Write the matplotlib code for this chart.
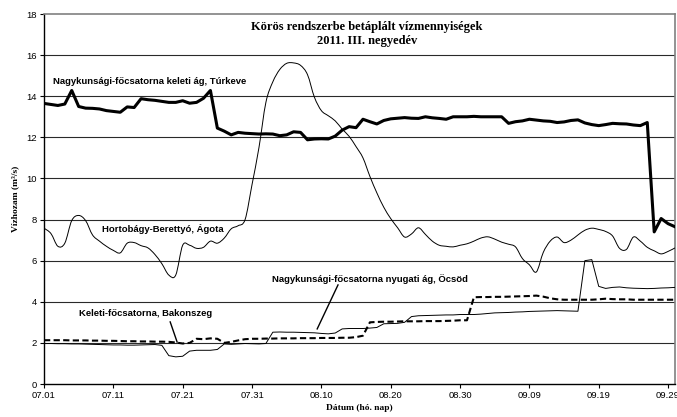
import matplotlib
matplotlib.use("Agg")
import matplotlib.pyplot as plt
from matplotlib.path import Path
from matplotlib.patches import PathPatch
import numpy as np

# Day index 0 = 07.01, 91 = 09.30 (2011)
days = np.arange(92)
tick_days = [0, 10, 20, 30, 40, 50, 60, 70, 80, 90]
tick_labels = ["07.01", "07.11", "07.21", "07.31", "08.10", "08.20",
               "08.30", "09.09", "09.19", "09.29"]

# Nagykunsági-főcsatorna keleti ág, Túrkeve (m3/s)
turkeve = [13.65, 13.6, 13.55, 13.62, 14.28, 13.5, 13.42, 13.41, 13.38, 13.3,
           13.26, 13.22, 13.48, 13.45, 13.88, 13.83, 13.8, 13.75, 13.7, 13.7,
           13.78, 13.66, 13.7, 13.9, 14.28, 12.45, 12.3, 12.12, 12.24, 12.2,
           12.18, 12.16, 12.17, 12.16, 12.08, 12.12, 12.27, 12.24, 11.88, 11.92,
           11.93, 11.92, 12.06, 12.35, 12.52, 12.47, 12.88, 12.76, 12.65, 12.82,
           12.9, 12.93, 12.96, 12.93, 12.92, 13.0, 12.95, 12.92, 12.88, 13.0,
           13.0, 13.0, 13.02, 13.0, 13.0, 13.0, 13.0, 12.68, 12.76, 12.8,
           12.88, 12.84, 12.8, 12.78, 12.72, 12.75, 12.82, 12.85, 12.7, 12.62,
           12.57, 12.62, 12.68, 12.66, 12.65, 12.6, 12.57, 12.72, 7.4, 8.05,
           7.8, 7.65]

# Hortobágy-Berettyó, Ágota
agota = [7.58, 7.32, 6.7, 6.85, 7.95, 8.2, 7.95, 7.25, 6.95, 6.7,
         6.5, 6.38, 6.85, 6.88, 6.73, 6.62, 6.3, 5.85, 5.3, 5.3,
         6.75, 6.75, 6.6, 6.65, 6.95, 6.85, 7.1, 7.55, 7.7, 8.0,
         9.7, 11.5, 13.7, 14.7, 15.3, 15.6, 15.62, 15.5, 15.05, 13.95,
         13.3, 13.05, 12.8, 12.4, 12.05, 11.55, 11.0, 10.1, 9.3, 8.6,
         8.05, 7.6, 7.15, 7.3, 7.6, 7.28, 6.95, 6.75, 6.7, 6.67,
         6.75, 6.82, 6.95, 7.1, 7.16, 7.05, 6.9, 6.8, 6.67, 6.1,
         5.8, 5.45, 6.4, 6.95, 7.15, 6.88, 7.0, 7.25, 7.48, 7.58,
         7.52, 7.42, 7.2, 6.6, 6.55, 7.15, 6.95, 6.65, 6.48, 6.33,
         6.45, 6.62]

# Nagykunsági-főcsatorna nyugati ág, Öcsöd
ocsod = [1.97, 1.97, 1.96, 1.96, 1.95, 1.95, 1.94, 1.93, 1.92, 1.91,
         1.9, 1.9, 1.89, 1.89, 1.9, 1.91, 1.92, 1.88, 1.38, 1.32,
         1.35, 1.6, 1.64, 1.64, 1.64, 1.68, 1.95, 1.93, 1.95, 1.97,
         1.96, 1.95, 1.97, 2.52, 2.53, 2.52, 2.52, 2.51, 2.5, 2.49,
         2.46, 2.44, 2.48, 2.68, 2.7, 2.7, 2.7, 2.72, 2.75, 2.93,
         2.94, 2.95, 3.0, 3.28, 3.32, 3.33, 3.34, 3.35, 3.36, 3.36,
         3.38, 3.38, 3.38, 3.4, 3.43, 3.46, 3.47, 3.48, 3.5, 3.51,
         3.53, 3.54, 3.55, 3.56, 3.57, 3.56, 3.55, 3.54, 6.0, 6.05,
         4.75, 4.65, 4.7, 4.72, 4.68, 4.66, 4.65, 4.64, 4.65, 4.67,
         4.68, 4.7]

# Keleti-főcsatorna, Bakonszeg
bakonszeg = [2.13, 2.13, 2.13, 2.13, 2.12, 2.12, 2.12, 2.11, 2.11, 2.1,
             2.1, 2.09, 2.08, 2.08, 2.07, 2.07, 2.06, 2.06, 2.05, 2.02,
             1.97, 2.0, 2.2, 2.18, 2.22, 2.2, 2.0, 2.05, 2.12, 2.18,
             2.2, 2.2, 2.21, 2.21, 2.22, 2.22, 2.22, 2.23, 2.23, 2.23,
             2.24, 2.24, 2.24, 2.25, 2.25, 2.28, 2.35, 3.0, 3.02, 3.03,
             3.03, 3.04, 3.05, 3.05, 3.05, 3.06, 3.06, 3.06, 3.07, 3.08,
             3.1, 3.1, 4.22, 4.23, 4.23, 4.24, 4.24, 4.25, 4.26, 4.27,
             4.28, 4.3, 4.25, 4.17, 4.12, 4.1, 4.1, 4.1, 4.1, 4.1,
             4.12, 4.15, 4.13, 4.12, 4.12, 4.1, 4.1, 4.1, 4.1, 4.1,
             4.1, 4.1]

sans = ["Liberation Sans", "DejaVu Sans"]
serif = ["Liberation Serif", "DejaVu Serif"]


def smooth_path(x, y):
    """Catmull-Rom curve through the points, as cubic Bezier segments."""
    p = np.column_stack([x, y]).astype(float)
    ext = np.vstack([p[0], p, p[-1]])
    verts = [p[0]]
    codes = [Path.MOVETO]
    for i in range(len(p) - 1):
        p0, p1, p2, p3 = ext[i], ext[i + 1], ext[i + 2], ext[i + 3]
        c1 = p1 + (p2 - p0) / 6.0
        c2 = p2 - (p3 - p1) / 6.0
        verts += [c1, c2, p2]
        codes += [Path.CURVE4] * 3
    return Path(np.array(verts), codes)


fig = plt.figure(figsize=(6.77, 4.17), dpi=100)
ax = fig.add_axes([44 / 677, 1 - 384 / 417, 631 / 677, 370 / 417])

ax.set_xlim(0, 91)
ax.set_ylim(0, 18)
ax.set_yticks(np.arange(0, 19, 2))
ax.set_xticks(tick_days)
ax.set_xticklabels(tick_labels)

for y in np.arange(2, 18, 2):
    ax.axhline(y, color="#2a2a2a", lw=0.8, zorder=1)

ax.add_patch(PathPatch(smooth_path(days, agota), fill=False, edgecolor="black",
                       lw=0.7, zorder=3))
ax.plot(days, ocsod, color="black", lw=0.7, zorder=3)
ax.plot(days, bakonszeg, color="black", lw=1.5, dashes=(3, 1.6), zorder=4)
ax.plot(days, turkeve, color="black", lw=2.2, zorder=5)

for s in ("top", "right"):
    ax.spines[s].set_color("#808080")
    ax.spines[s].set_linewidth(1.2)
for s in ("left", "bottom"):
    ax.spines[s].set_color("black")
    ax.spines[s].set_linewidth(1.0)

ax.tick_params(axis="both", direction="out", length=3, width=0.8,
               labelsize=6.8, pad=2)
for lab in ax.get_xticklabels() + ax.get_yticklabels():
    lab.set_family(sans)

ax.text(0.512, 0.946, "Körös rendszerbe betáplált vízmennyiségek\n2011. III. negyedév",
        transform=ax.transAxes, ha="center", va="center", family=serif,
        fontweight="bold", fontsize=9, linespacing=1.3)

ax.set_ylabel("Vízhozam (m³/s)", family=serif, fontweight="bold", fontsize=6.8,
              labelpad=5)
ax.set_xlabel("Dátum (hó. nap)", family=serif, fontweight="bold", fontsize=6.8,
              labelpad=3)

lab_kw = dict(family=sans, fontweight="bold", fontsize=6.8, ha="center",
              va="center", zorder=6)
ax.text(15.3, 14.74, "Nagykunsági-főcsatorna keleti ág, Túrkeve", **lab_kw)
ax.text(17.1, 7.54, "Hortobágy-Berettyó, Ágota", **lab_kw)
ax.text(47.0, 5.1, "Nagykunsági-főcsatorna nyugati ág, Öcsöd", **lab_kw)
ax.text(14.6, 3.45, "Keleti-főcsatorna, Bakonszeg", **lab_kw)

# leader lines from the labels to their series
ax.plot([42.4, 39.4], [4.82, 2.68], color="black", lw=1.0, zorder=6)
ax.plot([18.2, 19.2], [3.02, 2.04], color="black", lw=1.0, zorder=6)

fig.savefig("out.png", dpi=100)
